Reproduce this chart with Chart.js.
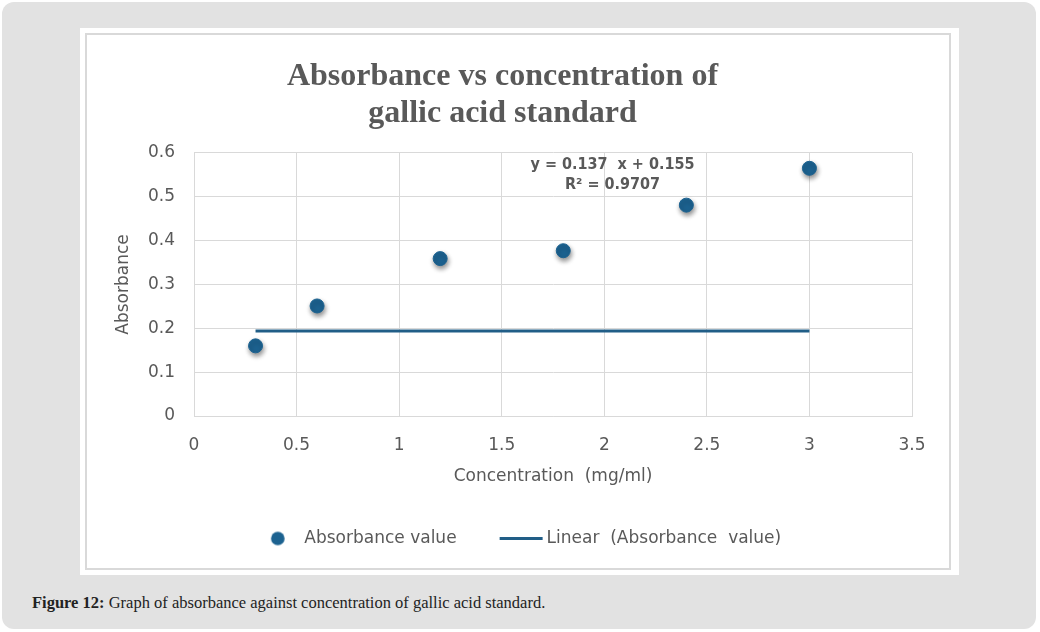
<!DOCTYPE html>
<html>
<head>
<meta charset="utf-8">
<script src="https://cdn.jsdelivr.net/npm/chart.js@4.4.1/dist/chart.umd.min.js"></script>
<style>
  html, body { margin: 0; padding: 0; background: #ffffff; width: 1040px; height: 632px; overflow: hidden; }
  #card { position: absolute; left: 2px; top: 2px; width: 1034px; height: 627px; background: #e2e2e2; border-radius: 12px; }
  #panel { position: absolute; left: 80px; top: 28px; width: 879px; height: 547px; background: #ffffff; }
  #frame { position: absolute; left: 85px; top: 33px; width: 862px; height: 533px; border: 2px solid #d9d9d9; }
  #wrap { position: absolute; left: 87px; top: 35px; width: 862px; height: 533px; }
  #caption { position: absolute; left: 32px; top: 593px; font-family: 'Liberation Serif', serif; font-size: 16.5px; color: #222222; white-space: nowrap; }
</style>
</head>
<body>
<div id="card"></div>
<div id="panel"></div>
<div id="frame"></div>
<div id="wrap"><canvas id="c"></canvas></div>
<div id="caption"><b>Figure 12:</b> Graph of absorbance against concentration of gallic acid standard.</div>
<script>
// ---- data ----
const concentration = [0.3, 0.6, 1.2, 1.8, 2.4, 3.0];
const absorbance = [0.160, 0.251, 0.359, 0.377, 0.481, 0.565];
const trendX = [0.3, 3.0];
const trendY = [0.194, 0.194];
const xTickLabels = ['0', '0.5', '1', '1.5', '2', '2.5', '3', '3.5'];
const yTickLabels = ['0', '0.1', '0.2', '0.3', '0.4', '0.5', '0.6'];
const seriesNames = ['Absorbance value', 'Linear  (Absorbance  value)'];
const titleLines = ['Absorbance vs concentration of', 'gallic acid standard'];
const equationLines = ['y = 0.137  x + 0.155', 'R\u00B2 = 0.9707'];

const pointColor = '#1c6290';
const lineColor = '#215e87';

// legend marker images
function makeCircle() {
  const c = document.createElement('canvas');
  c.width = 16; c.height = 16;
  const g = c.getContext('2d');
  g.fillStyle = pointColor;
  g.beginPath(); g.arc(8, 8, 6.8, 0, Math.PI * 2); g.fill();
  return c;
}
function makeLine() {
  const c = document.createElement('canvas');
  c.width = 47; c.height = 3;
  const g = c.getContext('2d');
  g.fillStyle = lineColor;
  g.fillRect(3, 0, 43, 3);
  return c;
}
const circleImg = makeCircle();
const lineImg = makeLine();

const shadowPlugin = {
  id: 'pointShadow',
  beforeDatasetDraw(chart, args) {
    if (args.index === 0) {
      const c = chart.ctx;
      c.save();
      c.shadowColor = 'rgba(0,0,0,0.45)';
      c.shadowBlur = 5;
      c.shadowOffsetX = 1;
      c.shadowOffsetY = 3;
    }
  },
  afterDatasetDraw(chart, args) {
    if (args.index === 0) chart.ctx.restore();
  }
};

// small offsets of the title and legend blocks to match the original layout
const nudgePlugin = {
  id: 'nudge',
  afterLayout(chart, args, opts) {
    const t = chart.titleBlock, l = chart.legend;
    if (t) { t.left += opts.titleDx; t.right += opts.titleDx; }
    if (l) { l.left += opts.legendDx; l.right += opts.legendDx; l.top += opts.legendDy; l.bottom += opts.legendDy; }
  }
};

const equationPlugin = {
  id: 'equation',
  afterDatasetsDraw(chart, args, opts) {
    const c = chart.ctx;
    const xs = chart.scales.x, ys = chart.scales.y;
    c.save();
    c.font = opts.font;
    c.fillStyle = opts.color;
    c.textAlign = 'center';
    c.textBaseline = 'middle';
    opts.lines.forEach((t, i) => {
      c.fillText(t, xs.getPixelForValue(opts.x), ys.getPixelForValue(opts.y[i]));
    });
    c.restore();
  }
};

const tickFont = { family: "'DejaVu Sans', sans-serif", size: 17 };

new Chart(document.getElementById('c'), {
  type: 'scatter',
  data: {
    datasets: [
      {
        label: seriesNames[0],
        data: concentration.map((x, i) => ({ x: x, y: absorbance[i] })),
        backgroundColor: pointColor,
        borderColor: pointColor,
        pointRadius: 7,
        pointHoverRadius: 7,
        order: 1
      },
      {
        type: 'line',
        label: seriesNames[1],
        data: trendX.map((x, i) => ({ x: x, y: trendY[i] })),
        borderColor: lineColor,
        backgroundColor: lineColor,
        borderWidth: 3,
        pointRadius: 0,
        fill: false,
        order: 2
      }
    ]
  },
  options: {
    responsive: true,
    maintainAspectRatio: false,
    animation: false,
    layout: { padding: { left: 22, right: 37, top: 0, bottom: 9 } },
    scales: {
      x: {
        type: 'linear',
        min: 0, max: 3.5,
        afterFit(s) { s.height = 70.5; },
        ticks: {
          stepSize: 0.5,
          padding: 19,
          color: '#595959',
          font: tickFont,
          callback: (v, i) => xTickLabels[i]
        },
        grid: { color: '#d9d9d9', lineWidth: 1, drawTicks: false },
        border: { display: true, color: '#d9d9d9' },
        title: {
          display: true,
          text: 'Concentration  (mg/ml)',
          color: '#595959',
          font: tickFont,
          padding: { top: 4, bottom: 0 }
        }
      },
      y: {
        type: 'linear',
        min: 0, max: 0.6,
        afterFit(s) { s.width = 85; },
        ticks: {
          stepSize: 0.1,
          padding: 19,
          color: '#595959',
          font: tickFont,
          callback: (v, i) => yTickLabels[i]
        },
        grid: { color: '#d9d9d9', lineWidth: 1, drawTicks: false },
        border: { display: true, color: '#d9d9d9' },
        title: {
          display: true,
          text: 'Absorbance',
          color: '#595959',
          font: tickFont,
          padding: { top: 4, bottom: 4 }
        }
      }
    },
    plugins: {
      tooltip: { enabled: false },
      title: {
        display: true,
        text: titleLines,
        color: '#595959',
        font: { family: "'Liberation Serif', 'Times New Roman', serif", size: 32, weight: 'bold', lineHeight: 1.14 },
        padding: { top: 23.75, bottom: 21.25 }
      },
      legend: {
        display: true,
        position: 'bottom',
        labels: {
          usePointStyle: true,
          pointStyleWidth: 36,
          padding: 45.5,
          color: '#595959',
          font: tickFont,
          generateLabels(chart) {
            const items = Chart.defaults.plugins.legend.labels.generateLabels(chart);
            items[0].pointStyle = circleImg;
            items[1].pointStyle = lineImg;
            return items;
          }
        }
      },
      nudge: { titleDx: -8, legendDx: 10, legendDy: -2 },
      equation: {
        lines: equationLines,
        x: 2.04,
        y: [0.573, 0.528],
        font: "bold 16px 'DejaVu Sans Condensed', 'DejaVu Sans', sans-serif",
        color: '#595959'
      }
    }
  },
  plugins: [shadowPlugin, nudgePlugin, equationPlugin]
});
</script>
</body>
</html>
